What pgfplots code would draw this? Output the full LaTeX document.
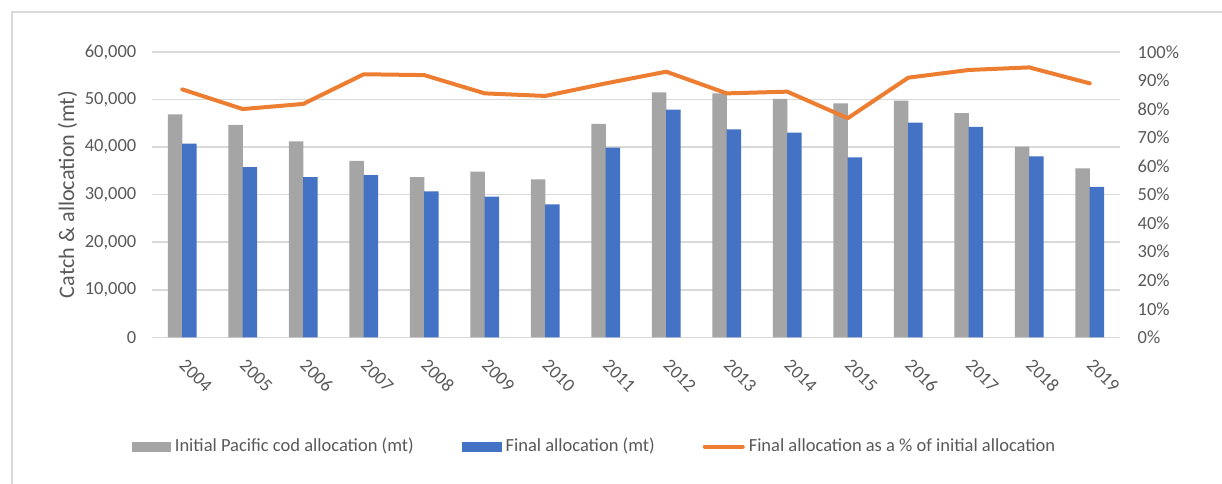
\documentclass[border=0pt]{standalone}
\usepackage{fontspec}
\setmainfont{Carlito}
\usepackage{pgfplots}
\pgfplotsset{compat=1.18}

\definecolor{cgray}{HTML}{A5A5A5}
\definecolor{cblue}{HTML}{4472C4}
\definecolor{corange}{HTML}{ED7D31}
\definecolor{gridgray}{HTML}{D9D9D9}
\definecolor{textgray}{HTML}{595959}

\pgfplotsset{
  commonaxis/.style={
    at={(0pt,0pt)}, anchor=south west,
    scale only axis, width=484pt, height=142.65pt,
    xmin=-0.5, xmax=15.5,
    axis line style={draw=none},
    major tick length=0pt,
    /pgf/number format/assume math mode=true,
    tick label style={font=\fontsize{9.25}{11}\selectfont, text=textgray, inner sep=0pt},
  },
}

\begin{document}
\begin{tikzpicture}
\useasboundingbox (-76pt,-72.85pt) rectangle (535pt,168.65pt);
% chart frame
\draw[gridgray, line width=0.85pt] (-70.15pt,-80pt) -- (-70.15pt,162.8pt) -- (545pt,162.8pt);

% left axis: allocations as bars
\begin{axis}[commonaxis,
  ymin=0, ymax=60000,
  ytick={0,10000,...,60000},
  scaled y ticks=false,
  yticklabel style={/pgf/number format/1000 sep={,}, anchor=east, xshift=-7.65pt},
  ymajorgrids,
  grid style={gridgray, line width=0.8pt},
  xtick={0,...,15},
  xticklabels={2004,2005,2006,2007,2008,2009,2010,2011,2012,2013,2014,2015,2016,2017,2018,2019},
  xticklabel style={rotate=-45, anchor=west},
  xticklabel shift=12.3pt,
  ylabel={Catch \& allocation (mt)},
  ylabel style={at={(axis description cs:-0.0873,0.5)}, anchor=center,
    font=\fontsize{11.1}{13}\selectfont, text=textgray},
  legend columns=3,
  legend style={at={(axis description cs:-0.021,-0.383)}, anchor=west,
    draw=none, fill=none, inner sep=0pt, outer sep=0pt,
    font=\fontsize{9.25}{11}\selectfont, text=textgray,
    nodes={inner sep=0pt},
    /tikz/every odd column/.style={column sep=2pt},
    /tikz/column 2/.style={column sep=23.9pt},
    /tikz/column 4/.style={column sep=24pt}},
]
\addplot[ybar, bar width=7.25pt, bar shift=-3.62pt, fill=cgray, draw=none,
  legend image code/.code={\fill[cgray] (0pt,-2.5pt) rectangle (19.6pt,2.5pt);}]
  coordinates {(0,46900) (1,44650) (2,41220) (3,37080) (4,33710) (5,34830)
    (6,33230) (7,44860) (8,51520) (9,51310) (10,50120) (11,49210)
    (12,49760) (13,47170) (14,40090) (15,35540)};
\addlegendentry{Initial Pacific cod allocation (mt)}
\addplot[ybar, bar width=7.25pt, bar shift=3.62pt, fill=cblue, draw=none,
  legend image code/.code={\fill[cblue] (0pt,-2.5pt) rectangle (20pt,2.5pt);}]
  coordinates {(0,40720) (1,35810) (2,33710) (3,34130) (4,30700) (5,29570)
    (6,27970) (7,39870) (8,47870) (9,43740) (10,43030) (11,37850)
    (12,45130) (13,44230) (14,38070) (15,31610)};
\addlegendentry{Final allocation (mt)}
\addlegendimage{legend image code/.code={\draw[corange, line width=2pt, line cap=round] (1pt,0pt) -- (20pt,0pt);}}
\addlegendentry{Final allocation as a \% of initial allocation}
\end{axis}

% right axis: final as share of initial
\begin{axis}[commonaxis,
  ymin=0, ymax=100,
  ytick={0,10,...,100},
  hide x axis,
  ytick pos=right, yticklabel pos=right,
  yticklabel={\pgfmathprintnumber{\tick}\%},
  yticklabel style={anchor=west, xshift=8.65pt},
]
\addplot[corange, line width=2pt, line join=round, line cap=round, mark=none]
  coordinates {(0,86.9) (1,80.0) (2,81.8) (3,92.2) (4,91.9) (5,85.5)
    (6,84.6) (7,89.0) (8,93.1) (9,85.5) (10,86.1) (11,76.8)
    (12,91.0) (13,93.7) (14,94.6) (15,89.0)};
\end{axis}
\end{tikzpicture}
\end{document}
